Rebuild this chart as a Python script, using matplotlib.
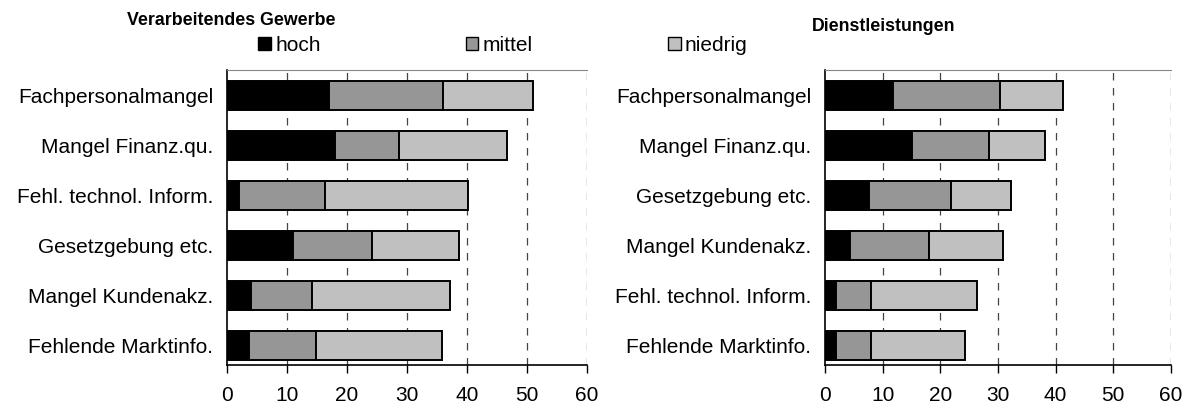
import numpy as np
import matplotlib.pyplot as plt
from matplotlib.patches import Patch

plt.rcParams['font.family'] = ['Liberation Sans', 'DejaVu Sans']

# Verarbeitendes Gewerbe
cats_left = ['Fachpersonalmangel', 'Mangel Finanz.qu.', 'Fehl. technol. Inform.',
             'Gesetzgebung etc.', 'Mangel Kundenakz.', 'Fehlende Marktinfo.']
hoch_left = [17.0, 18.0, 2.0, 11.0, 4.0, 3.7]
mittel_left = [19.0, 10.6, 14.3, 13.2, 10.2, 11.2]
niedrig_left = [15.0, 18.0, 23.9, 14.4, 23.0, 21.0]

# Dienstleistungen
cats_right = ['Fachpersonalmangel', 'Mangel Finanz.qu.', 'Gesetzgebung etc.',
              'Mangel Kundenakz.', 'Fehl. technol. Inform.', 'Fehlende Marktinfo.']
hoch_right = [11.8, 15.0, 7.7, 4.3, 1.9, 1.9]
mittel_right = [18.6, 13.4, 14.1, 13.7, 6.0, 6.0]
niedrig_right = [10.8, 9.7, 10.4, 12.9, 18.4, 16.4]

series_names = ['hoch', 'mittel', 'niedrig']
colors = ['#000000', '#969696', '#c0c0c0']
xticks = [0, 10, 20, 30, 40, 50, 60]

fig = plt.figure(figsize=(11.91, 4.08), dpi=100)
ax1 = fig.add_axes([0.1906, 0.105, 0.3023, 0.723])
ax2 = fig.add_axes([0.6927, 0.105, 0.2905, 0.723])


def draw(ax, cats, hoch, mittel, niedrig):
    y = np.arange(len(cats))
    left = np.zeros(len(cats))
    for vals, c in zip([hoch, mittel, niedrig], colors):
        ax.barh(y, vals, left=left, height=0.58, color=c, edgecolor='black',
                linewidth=1.4, zorder=3)
        left = left + np.array(vals)
    ax.set_ylim(5.39, -0.51)
    ax.set_xlim(0, 60)
    ax.set_yticks(y)
    ax.set_yticklabels(cats, fontsize=15)
    ax.tick_params(axis='y', length=0, pad=10)
    ax.set_xticks(xticks)
    ax.set_xticklabels([str(t) for t in xticks], fontsize=15)
    ax.tick_params(axis='x', length=6, width=1, direction='out', pad=9)
    for t in xticks[1:]:
        ax.axvline(t, color='#444444', linestyle=(0, (6, 6)), linewidth=0.9, zorder=1)
    ax.spines['left'].set_linewidth(1.2)
    ax.spines['bottom'].set_linewidth(1.2)
    ax.spines['top'].set_color('#888888')
    ax.spines['right'].set_visible(False)


draw(ax1, cats_left, hoch_left, mittel_left, niedrig_left)
draw(ax2, cats_right, hoch_right, mittel_right, niedrig_right)

fig.text(0.194, 0.95, 'Verarbeitendes Gewerbe', fontsize=12.8, fontweight='bold',
         ha='center', va='center')
fig.text(0.742, 0.935, 'Dienstleistungen', fontsize=12.8, fontweight='bold',
         ha='center', va='center')

handles = [Patch(facecolor=c, edgecolor='black', linewidth=1) for c in colors]
leg_x = [0.217, 0.391, 0.561]
for h, name, x in zip(handles, series_names, leg_x):
    fig.legend([h], [name], loc='center left', bbox_to_anchor=(x, 0.888),
               frameon=False, fontsize=15, handlelength=0.6, handleheight=0.6,
               handletextpad=0.2, borderpad=0, borderaxespad=0)

fig.savefig('out.png', dpi=100)
